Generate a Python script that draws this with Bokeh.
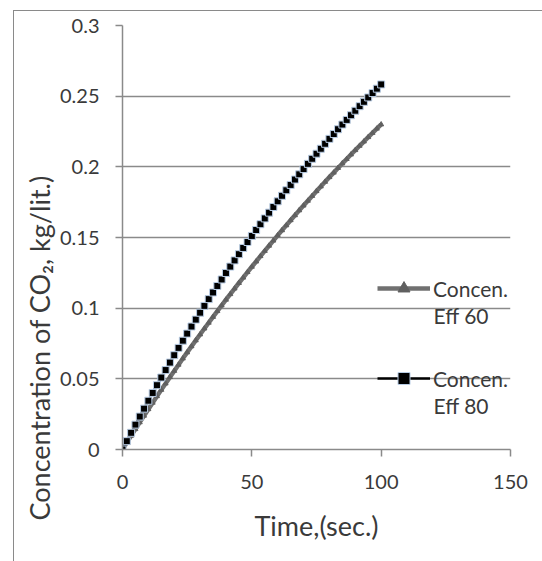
from bokeh.plotting import figure
from bokeh.models import (Range1d, FixedTicker, Legend, LegendItem, Label, Title, InlineStyleSheet)
from bokeh.embed import file_html
from bokeh.resources import INLINE

# ---- data ----
time_s = [0, 1.67, 3.33, 5, 6.67, 8.33, 10, 11.67, 13.33, 15, 16.67, 18.33, 20, 21.67,
          23.33, 25, 26.67, 28.33, 30, 31.67, 33.33, 35, 36.67, 38.33, 40, 41.67, 43.33,
          45, 46.67, 48.33, 50, 51.67, 53.33, 55, 56.67, 58.33, 60, 61.67, 63.33, 65,
          66.67, 68.33, 70, 71.67, 73.33, 75, 76.67, 78.33, 80, 81.67, 83.33, 85, 86.67,
          88.33, 90, 91.67, 93.33, 95, 96.67, 98.33, 100]
conc_eff60 = [0.0, 0.0049, 0.0097, 0.0144, 0.0192, 0.0239, 0.0285, 0.0331, 0.0377, 0.0422,
              0.0467, 0.0512, 0.0556, 0.0600, 0.0644, 0.0687, 0.0730, 0.0772, 0.0814, 0.0856,
              0.0897, 0.0938, 0.0979, 0.1019, 0.1060, 0.1099, 0.1139, 0.1178, 0.1216, 0.1255,
              0.1293, 0.1330, 0.1368, 0.1405, 0.1442, 0.1478, 0.1515, 0.1551, 0.1586, 0.1622,
              0.1657, 0.1692, 0.1726, 0.1760, 0.1794, 0.1828, 0.1861, 0.1894, 0.1927, 0.1959,
              0.1992, 0.2024, 0.2055, 0.2087, 0.2118, 0.2149, 0.2179, 0.2210, 0.2240, 0.2270,
              0.2300]
conc_eff80 = [0.0, 0.0059, 0.0118, 0.0176, 0.0233, 0.0289, 0.0345, 0.0400, 0.0455, 0.0509,
              0.0562, 0.0615, 0.0667, 0.0719, 0.0770, 0.0820, 0.0870, 0.0919, 0.0968, 0.1016,
              0.1064, 0.1111, 0.1157, 0.1203, 0.1249, 0.1294, 0.1338, 0.1382, 0.1426, 0.1468,
              0.1511, 0.1553, 0.1594, 0.1635, 0.1676, 0.1716, 0.1756, 0.1795, 0.1834, 0.1872,
              0.1910, 0.1947, 0.1984, 0.2021, 0.2057, 0.2093, 0.2128, 0.2163, 0.2198, 0.2232,
              0.2266, 0.2299, 0.2332, 0.2365, 0.2397, 0.2429, 0.2460, 0.2491, 0.2522, 0.2553,
              0.2583]
x_ticks = [0, 50, 100, 150]
y_ticks = [0, 0.05, 0.1, 0.15, 0.2, 0.25, 0.3]
y_tick_labels = ["0", "0.05", "0.1", "0.15", "0.2", "0.25", "0.3"]
series_label = "Concen."
series_names = ["Eff 60", "Eff 80"]

FONT = "Lato"
TXT = "#3a3a3a"
GRID = "#8a8a8a"

border_css = InlineStyleSheet(css="""
:host { position: relative; }
:host::after { content: ''; position: absolute; left: 13px; top: 10px; width: 0; height: 600px;
  border-left: 1px solid #8a8a8a; pointer-events: none; z-index: 10; }
:host::before { content: ''; position: absolute; left: 13px; top: 10px; width: 600px; height: 0;
  border-top: 1px solid #8a8a8a; pointer-events: none; z-index: 10; }
""")

p = figure(width=534, height=553, output_backend="svg", toolbar_location=None,
           x_range=Range1d(0, 150), y_range=Range1d(0, 0.3),
           min_border_left=122, min_border_right=24, min_border_top=25, min_border_bottom=104)
p.stylesheets = [border_css]
p.outline_line_color = None
p.background_fill_color = "white"
p.border_fill_color = "white"

# axes
p.xaxis.ticker = FixedTicker(ticks=x_ticks)
p.yaxis.ticker = FixedTicker(ticks=y_ticks)
p.yaxis.major_label_overrides = {t: s for t, s in zip(y_ticks, y_tick_labels)}
for ax in (p.xaxis[0], p.yaxis[0]):
    ax.axis_line_color = GRID
    ax.axis_line_width = 1.5
    ax.major_tick_line_color = GRID
    ax.major_tick_line_width = 1.5
    ax.major_tick_in = 0
    ax.major_tick_out = 7
    ax.minor_tick_line_color = None
    ax.major_label_text_font = FONT
    ax.major_label_text_font_size = "20px"
    ax.major_label_text_color = TXT
p.yaxis.major_label_standoff = 16
p.xaxis.major_label_standoff = 18
p.xaxis.axis_label = "Time,(sec.)"
p.xaxis.axis_label_text_font = FONT
p.xaxis.axis_label_text_font_size = "27px"
p.xaxis.axis_label_text_font_style = "normal"
p.xaxis.axis_label_text_color = TXT
p.xaxis.axis_label_standoff = 17

p.xgrid.grid_line_color = None
p.ygrid.ticker = FixedTicker(ticks=y_ticks)
p.ygrid.grid_line_color = GRID
p.ygrid.grid_line_width = 1.5

# series
l60 = p.line(time_s, conc_eff60, line_color="#707070", line_width=4.5)
s60 = p.scatter(time_s, conc_eff60, marker="triangle", size=5, fill_color="#606060",
                line_color="#606060")
l80 = p.line(time_s, conc_eff80, line_color="black", line_width=2.5)
s80 = p.scatter(time_s, conc_eff80, marker="square", size=7, fill_color="black",
                line_color="#b9cde5", line_width=1)

legend = Legend(items=[LegendItem(label=series_label, renderers=[l60, s60]),
                       LegendItem(label=series_label, renderers=[l80, s80])],
                location=(255, 56), padding=0, margin=0, spacing=60,
                glyph_width=53, glyph_height=30, label_height=30, label_standoff=3,
                border_line_color=None, background_fill_alpha=0,
                label_text_font=FONT, label_text_font_size="21px", label_text_color=TXT)
p.add_layout(legend)
p.add_layout(Label(x=311, y=134, x_units="screen", y_units="screen", text=series_names[0],
                   text_font=FONT, text_font_size="21px", text_color=TXT,
                   text_baseline="alphabetic"))
p.add_layout(Label(x=311, y=44, x_units="screen", y_units="screen", text=series_names[1],
                   text_font=FONT, text_font_size="21px", text_color=TXT,
                   text_baseline="alphabetic"))

# y axis title, starting below the frame bottom as in the reference
p.add_layout(Title(text="Concentration of CO\u2082, kg/lit.)", align="left", offset=-71,
                   standoff=2, text_font=FONT, text_font_size="27px",
                   text_font_style="normal", text_color=TXT), "left")

open("out.html", "w").write(file_html(p, INLINE))
